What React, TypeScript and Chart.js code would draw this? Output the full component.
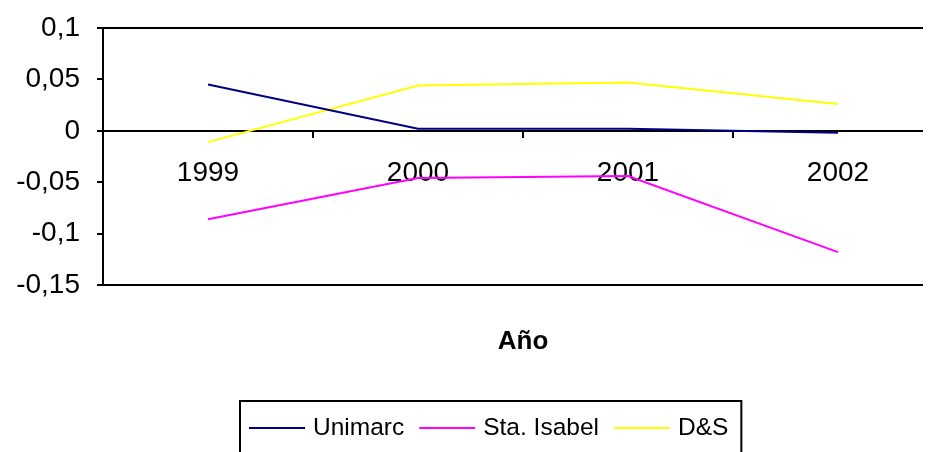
import React, { useEffect, useRef } from 'react';
import { Chart, registerables } from 'chart.js';

Chart.register(...registerables);

const years = ['1999', '2000', '2001', '2002'];
const unimarc = [0.045, 0.002, 0.002, -0.002];
const staIsabel = [-0.086, -0.046, -0.044, -0.118];
const ds = [-0.011, 0.044, 0.047, 0.026];
const seriesNames = ['Unimarc', 'Sta. Isabel', 'D&S'];
const seriesColors = ['#000080', '#FF00FF', '#FFFF00'];
const yTickLabels = ['-0,15', '-0,1', '-0,05', '0', '0,05', '0,1'];
const xTitle = 'Año';

const excelLegend = {
  id: 'excelLegend',
  afterDraw(chart: any) {
    const ctx = chart.ctx;
    const area = chart.chartArea;
    ctx.save();
    ctx.fillStyle = '#000';
    ctx.font = 'bold 26px "Liberation Sans", Arial, sans-serif';
    ctx.textAlign = 'center';
    ctx.textBaseline = 'middle';
    ctx.fillText(xTitle, (area.left + area.right) / 2, 334);

    ctx.font = '24.5px "Liberation Sans", Arial, sans-serif';
    ctx.textAlign = 'left';
    const boxLeft = 232;
    const boxTop = 393;
    const y = 420;
    let x = boxLeft + 9;
    chart.data.datasets.forEach((d: any) => {
      ctx.strokeStyle = d.borderColor;
      ctx.lineWidth = 2;
      ctx.beginPath();
      ctx.moveTo(x, y);
      ctx.lineTo(x + 56, y);
      ctx.stroke();
      x += 64;
      ctx.fillText(d.label, x, y);
      x += ctx.measureText(d.label).width + 15;
    });
    const boxRight = x - 15 + 13;
    ctx.strokeStyle = '#000';
    ctx.lineWidth = 2;
    ctx.strokeRect(boxLeft, boxTop, boxRight - boxLeft, 80);
    ctx.restore();
  },
};

export default function App() {
  const ref = useRef<HTMLCanvasElement>(null);
  useEffect(() => {
    if (!ref.current) return;
    const values = [unimarc, staIsabel, ds];
    const chart = new Chart(ref.current, {
      type: 'line',
      data: {
        labels: years,
        datasets: seriesNames.map((name, i) => ({
          label: name,
          data: values[i],
          borderColor: seriesColors[i],
          backgroundColor: seriesColors[i],
          borderWidth: 2,
          pointRadius: 0,
          tension: 0,
          fill: false,
        })),
      },
      options: {
        animation: false,
        responsive: false,
        devicePixelRatio: 1,
        layout: { padding: { left: 0, right: 5, top: 20, bottom: 167 } },
        plugins: { legend: { display: false }, tooltip: { enabled: false } },
        scales: {
          x: {
            type: 'category',
            position: { y: 0 } as any,
            offset: true,
            border: { display: true, color: '#000', width: 2 },
            grid: {
              display: true,
              offset: true,
              drawOnChartArea: false,
              drawTicks: true,
              tickLength: 6,
              color: '#000',
              lineWidth: 2,
            },
            ticks: {
              color: '#000',
              padding: 20,
              maxRotation: 0,
              font: { family: '"Liberation Sans", Arial, sans-serif', size: 28 },
            },
          },
          y: {
            min: -0.15,
            max: 0.1,
            border: { display: true, color: '#000', width: 2 },
            grid: {
              drawTicks: true,
              tickLength: 6,
              tickColor: '#000',
              lineWidth: 2,
              color: (c: any) =>
                c.index === 0 || c.index === yTickLabels.length - 1 ? '#000' : 'rgba(0,0,0,0)',
            },
            ticks: {
              stepSize: 0.05,
              color: '#000',
              padding: 17,
              font: { family: '"Liberation Sans", Arial, sans-serif', size: 28 },
              callback: (_v: any, i: number) => yTickLabels[i],
            },
            afterFit: (s: any) => {
              s.width = 95;
              s.paddingTop = 0;
              s.paddingBottom = 0;
            },
          },
        },
      },
      plugins: [excelLegend],
    });
    return () => chart.destroy();
  }, []);
  return (
    <div style={{ width: 923, height: 444, overflow: 'hidden' }}>
      <canvas ref={ref} width={940} height={444} style={{ display: 'block' }} />
    </div>
  );
}
